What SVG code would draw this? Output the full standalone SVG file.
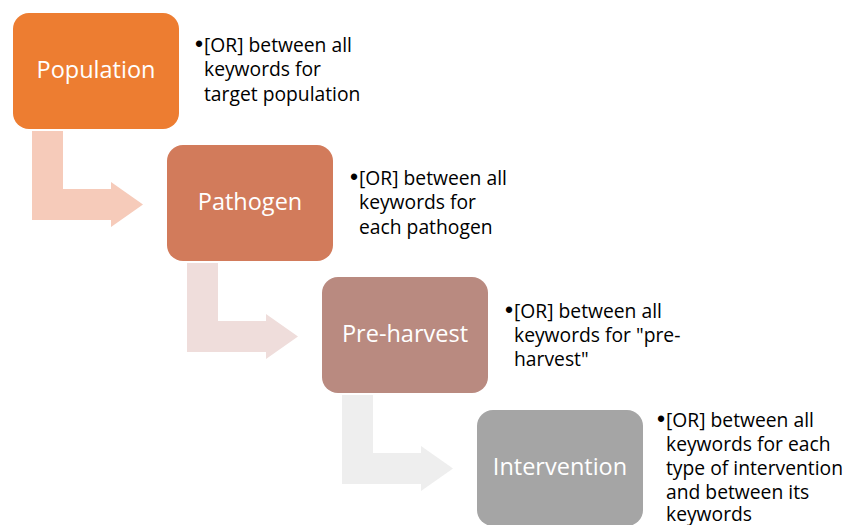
<svg xmlns="http://www.w3.org/2000/svg" width="858" height="525" viewBox="0 0 858 525">
<style>
.box{stroke:none}
.lbl{font-family:"Open Sans","Liberation Sans",sans-serif;font-size:23.5px;fill:#ffffff;text-anchor:middle}
.txt{font-family:"Open Sans","Liberation Sans",sans-serif;font-size:19.3px;fill:#000000}
.bul{font-family:"Liberation Sans","DejaVu Sans",sans-serif;font-size:23px}
</style>
<rect width="858" height="525" fill="#ffffff"/>
<g id="connectors">
<polygon fill="#F6CBBA" points="32,131 63,131 63,189 111,189 111,182 143,204.5 111,227 111,220 32,220"/>
<polygon fill="#EFDDDB" points="187,263 218,263 218,321 266,321 266,314 298,336.5 266,359 266,352 187,352"/>
<polygon fill="#EEEEEE" points="342,395 373,395 373,453 421,453 421,446 453,468.5 421,491 421,484 342,484"/>
</g>
<g id="population">
<rect class="box" x="13" y="13" width="166" height="116" rx="16" fill="#ED7D31"/>
<text class="lbl" x="96" y="78">Population</text>
</g>
<g id="population-note">
<text class="txt"><tspan class="bul" x="195" y="52">•</tspan><tspan x="204" y="52">[OR] between all</tspan><tspan x="204" y="76">keywords for</tspan><tspan x="204" y="101">target population</tspan></text>
</g>
<g id="pathogen">
<rect class="box" x="167" y="145" width="166" height="116" rx="16" fill="#D27B5B"/>
<text class="lbl" x="250" y="210">Pathogen</text>
</g>
<g id="pathogen-note">
<text class="txt"><tspan class="bul" x="350" y="185">•</tspan><tspan x="359" y="185">[OR] between all</tspan><tspan x="359" y="209">keywords for</tspan><tspan x="359" y="234">each pathogen</tspan></text>
</g>
<g id="preharvest">
<rect class="box" x="322" y="277" width="166" height="116" rx="16" fill="#B98A80"/>
<text class="lbl" x="405" y="342">Pre-harvest</text>
</g>
<g id="preharvest-note">
<text class="txt"><tspan class="bul" x="505" y="318">•</tspan><tspan x="514" y="318">[OR] between all</tspan><tspan x="514" y="342">keywords for "pre-</tspan><tspan x="514" y="366">harvest"</tspan></text>
</g>
<g id="intervention">
<rect class="box" x="477" y="410" width="166" height="116" rx="16" fill="#A5A5A5"/>
<text class="lbl" x="560" y="475">Intervention</text>
</g>
<g id="intervention-note">
<text class="txt"><tspan class="bul" x="657" y="427">•</tspan><tspan x="666" y="427">[OR] between all</tspan><tspan x="666" y="451">keywords for each</tspan><tspan x="666" y="475">type of intervention</tspan><tspan x="666" y="499">and between its</tspan><tspan x="666" y="521">keywords</tspan></text>
</g>
</svg>
